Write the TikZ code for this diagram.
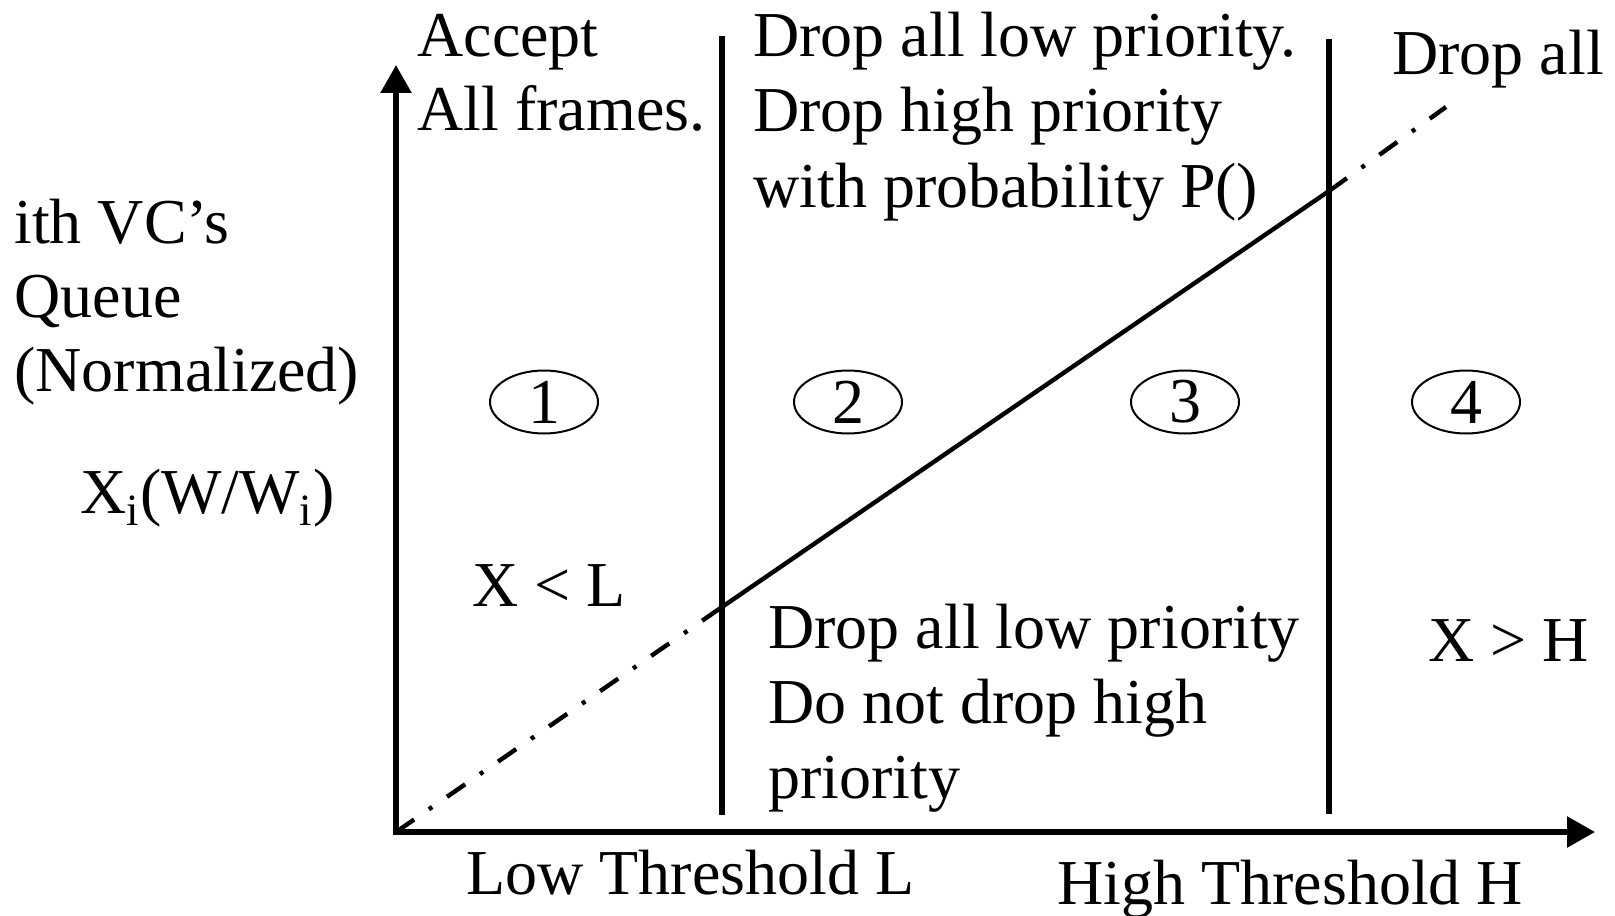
\documentclass[tikz,border=0pt]{standalone}
\usepackage{fontspec}
\setmainfont{Liberation Serif}
\usetikzlibrary{arrows.meta,shapes.geometric}

\newcommand{\lblfont}{\fontsize{32}{38.4}\selectfont}

\begin{document}
\begin{tikzpicture}[x=0.5pt,y=0.5pt,yscale=-1,
  lbl/.style={anchor=base west,inner sep=0pt,font=\lblfont},
  region/.style={draw,ellipse,line width=1pt,minimum width=54pt,minimum height=31.5pt,inner sep=0pt,font=\lblfont},
  axisline/.style={line width=2.8pt,{Triangle[length=14pt,width=15pt]}-{Triangle[length=14pt,width=15pt]}},
  bound/.style={line width=2.6pt},
  queueline/.style={line width=2.2pt},
  dashdot/.style={queueline,dash pattern=on 11pt off 9pt on 2pt off 9pt}]
\useasboundingbox (0,0) rectangle (1615,915);

%Points
\coordinate (O) at (396,832);
\coordinate (ytip) at (396,65);
\coordinate (xtip) at (1595,832);
\coordinate (Ltop) at (722,36);
\coordinate (Lbot) at (722,815);
\coordinate (Htop) at (1329,39);
\coordinate (Hbot) at (1329,814);
\coordinate (PL) at (722,607);
\coordinate (PH) at (1329,191);
\coordinate (Pend) at (1446,107);

%Axes
\draw [axisline] (ytip) |- (xtip);
%Thresholds
\draw [bound] (Ltop) -- (Lbot);
\draw [bound] (Htop) -- (Hbot);
%Queue line
\draw [dashdot] (O) -- (PL);
\draw [queueline] (PL) -- (PH);
\draw [dashdot] (PH) -- (Pend);

%Regions
\foreach \n/\x in {1/544,2/848,3/1185,4/1466}
  \node (r\n) [region] at (\x,402) {\n};

% Text Node
\node (ylab1) [lbl] at (14,243) {ith VC’s};
\node (ylab2) [lbl] at (14,317) {Queue};
\node (ylab3) [lbl] at (14,391) {(Normalized)};
\node (ylab4) [lbl] at (80,513) {X\textsubscript{i}(W/W\textsubscript{i})};
% Text Node
\node (acc1) [lbl] at (417,57) {Accept};
\node (acc2) [lbl] at (417,131) {All frames.};
% Text Node
\node (mid1) [lbl] at (753,57) {Drop all low priority.};
\node (mid2) [lbl] at (753,132) {Drop high priority};
\node (mid3) [lbl] at (753,207) {with probability P()};
% Text Node
\node (dropall) [lbl] at (1392,75) {Drop all};
% Text Node
\node (xl) [lbl] at (472,606) {X < L};
\node (xh) [lbl] at (1428,661) {X > H};
% Text Node
\node (low1) [lbl] at (768,648) {Drop all low priority};
\node (low2) [lbl] at (768,723) {Do not drop high};
\node (low3) [lbl] at (768,798) {priority};
% Text Node
\node (lowth) [lbl] at (466,894) {Low Threshold L};
\node (highth) [lbl] at (1057,904) {High Threshold H};
\end{tikzpicture}
\end{document}
